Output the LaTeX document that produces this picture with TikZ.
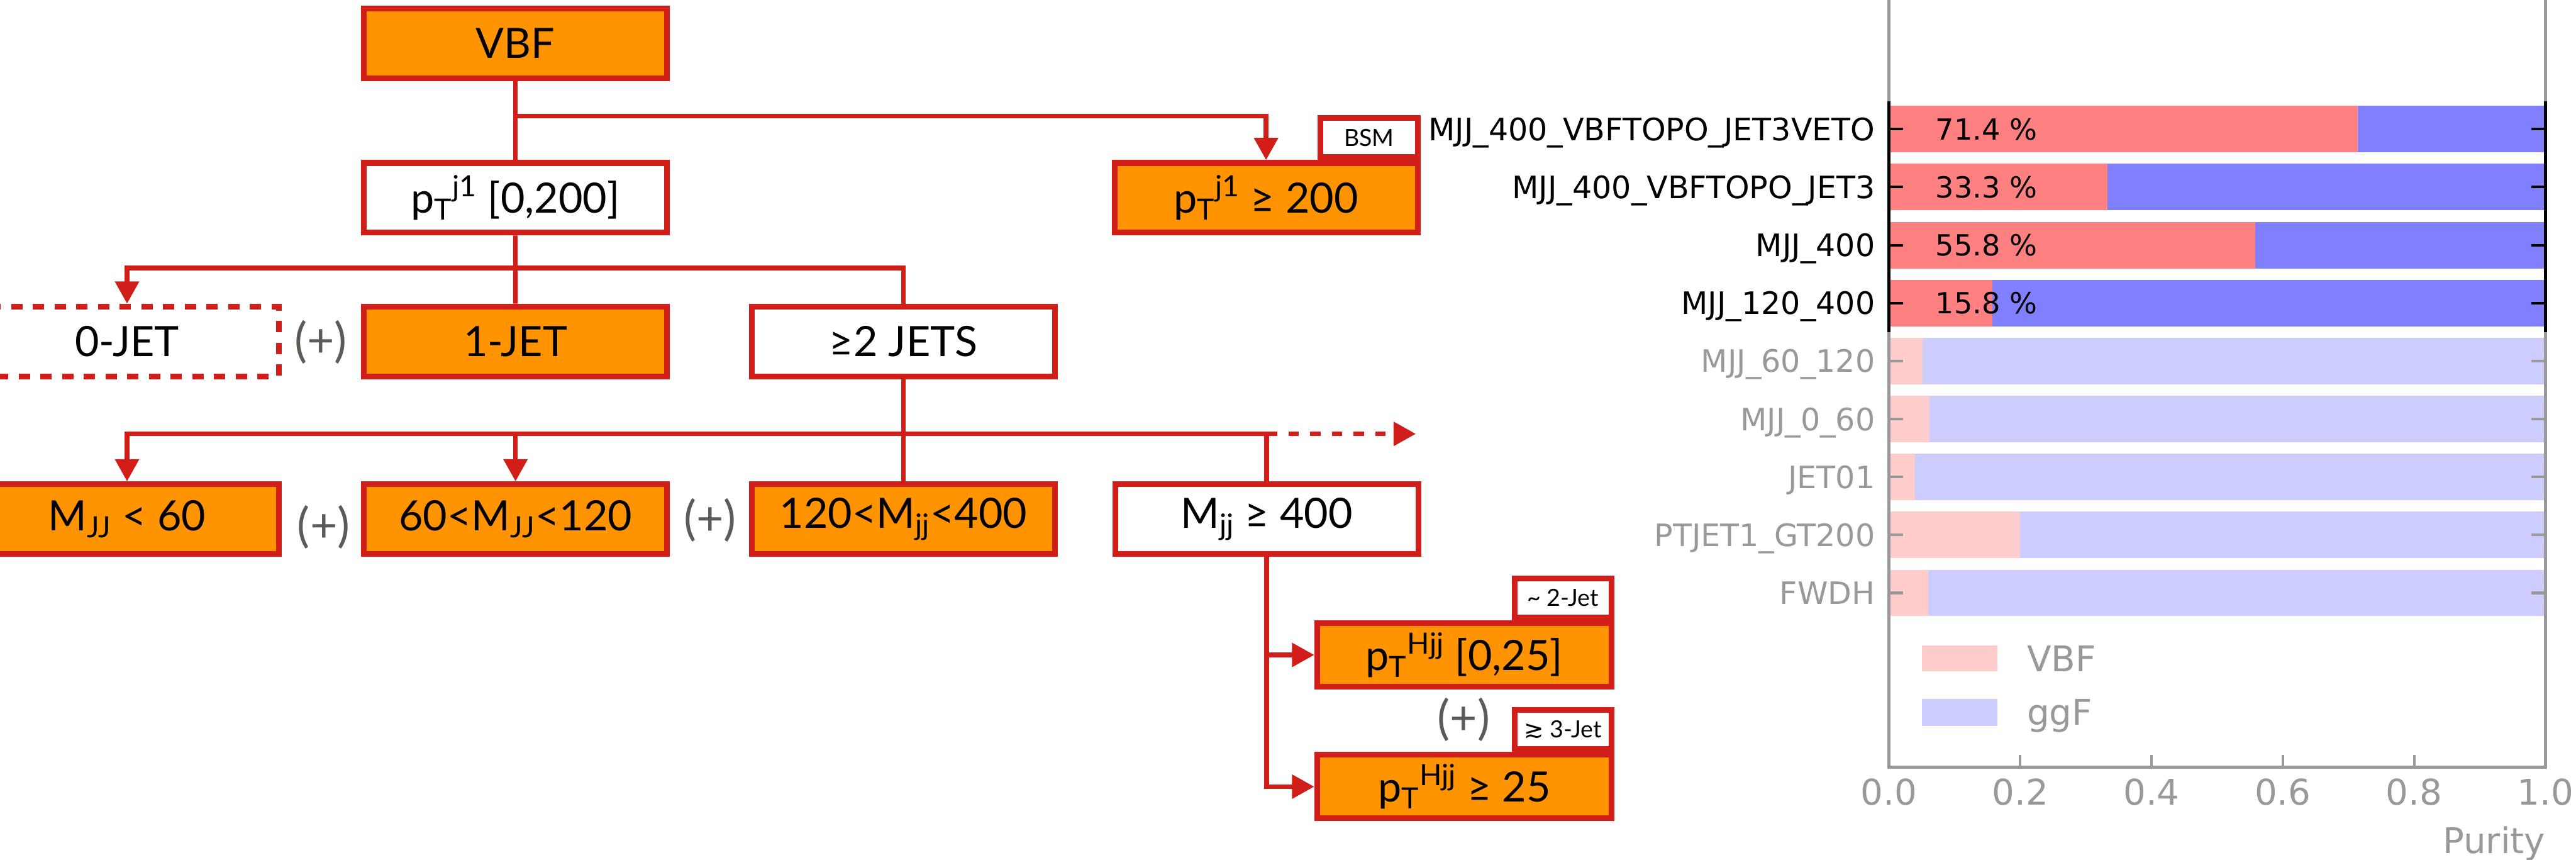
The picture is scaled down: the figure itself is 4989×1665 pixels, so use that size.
\documentclass[tikz,border=0pt]{standalone}
\usepackage{fontspec}
\setmainfont{Lato}
\newfontfamily\dejavu{DejaVu Sans}
\usetikzlibrary{arrows.meta, positioning}

\definecolor{catred}{RGB}{210,30,24}
\definecolor{catorange}{RGB}{255,148,0}
\definecolor{plusgray}{RGB}{94,90,87}
\definecolor{axisgray}{RGB}{153,153,153}
\definecolor{vbfred}{RGB}{255,128,128}
\definecolor{ggfblue}{RGB}{128,128,255}
\definecolor{vbflight}{RGB}{255,204,204}
\definecolor{ggflight}{RGB}{204,204,255}

\begin{document}
\begin{tikzpicture}[x=0.01cm, y=-0.01cm]
    \tikzstyle{catbox}=[draw=catred, line width=0.11cm, fill=catorange, minimum width=5.87cm, minimum height=1.35cm, inner sep=0pt, font=\fontsize{23}{27}\selectfont]
    \tikzstyle{openbox}=[catbox, fill=white]
    \tikzstyle{zerobox}=[openbox, dash pattern=on 0.22cm off 0.2cm]
    \tikzstyle{hjjbox}=[catbox, minimum width=5.70cm, minimum height=1.23cm]
    \tikzstyle{tagbox}=[draw=catred, line width=0.11cm, fill=white, minimum width=1.88cm, minimum height=0.76cm, inner sep=0pt, font=\fontsize{13}{15}\selectfont]
    \tikzstyle{plussign}=[text=plusgray, inner sep=0pt, font=\fontsize{26}{30}\selectfont]
    \tikzstyle{flowline}=[draw=catred, line width=0.09cm]
    \tikzstyle{flowarrow}=[-{Triangle[length=0.43cm, width=0.45cm]}]
    \tikzstyle{rowlabel}=[anchor=base east, inner sep=0pt, font=\dejavu\fontsize{17}{20}\selectfont]
    \tikzstyle{pctlabel}=[anchor=base west, inner sep=0pt, font=\dejavu\fontsize{16}{19}\selectfont]
    \tikzstyle{axislabel}=[text=axisgray, inner sep=0pt, font=\dejavu\fontsize{19.5}{23}\selectfont]

    \clip (0,0) rectangle (4989,1665);

    % Category tree
    \node[catbox] (vbf) at (998, 84) {VBF};
    \node[openbox] (ptlow) at (998, 383) {p\textsubscript{T}\textsuperscript{j1} [0,200]};
    \node[catbox] (pthigh) at (2452, 383) {p\textsubscript{T}\textsuperscript{j1} ≥ 200};
    \node[tagbox, anchor=south east] (bsm) at (pthigh.north east) {BSM};

    \node[zerobox] (zerojet) at (246, 661) {0-JET};
    \node[catbox, right=1.54cm of zerojet] (onejet) {1-JET};
    \node[openbox, right=1.53cm of onejet] (twojet) {≥2 JETS};
    \node[plussign] (plusa) at (621, 663) {(+)};

    \node[catbox] (mjja) at (246, 1005) {M\textsubscript{JJ} < 60};
    \node[catbox, right=1.54cm of mjja] (mjjb) {60<M\textsubscript{JJ}<120};
    \node[catbox, right=1.53cm of mjjb] (mjjc) {120<M\textsubscript{jj}<400};
    \node[openbox, right=1.05cm of mjjc] (mjjd) {M\textsubscript{jj} ≥ 400};
    \node[plussign] (plusb) at (627, 1020) {(+)};
    \node[plussign] (plusc) at (1375, 1007) {(+)};

    \node[hjjbox] (pthjjlow) at (2836, 1268) {p\textsubscript{T}\textsuperscript{Hjj} [0,25]};
    \node[hjjbox] (pthjjhigh) at (2836, 1523) {p\textsubscript{T}\textsuperscript{Hjj} ≥ 25};
    \node[tagbox, anchor=south east] (twojettag) at (pthjjlow.north east) {\textasciitilde{} 2-Jet};
    \node[tagbox, anchor=south east] (threejettag) at (pthjjhigh.north east) {{\dejavu ≳} 3-Jet};
    \node[plussign] (plusd) at (2835, 1393) {(+)};

    % Connectors
    \coordinate (vbfsplit) at (998, 225);
    \draw[flowline] (vbf) -- (ptlow);
    \draw[flowline, flowarrow] (vbfsplit) -| (pthigh.north);

    \coordinate (jetsplit) at (998, 519);
    \draw[flowline] (ptlow) -- (onejet);
    \draw[flowline, flowarrow] (jetsplit) -| (zerojet.north);
    \draw[flowline] (jetsplit) -| (twojet.north);

    \coordinate (mjjsplit) at (1749, 840);
    \coordinate (mjjmore) at (2742, 840);
    \draw[flowline] (twojet) -- (mjjc);
    \draw[flowline, flowarrow] (mjjsplit) -| (mjja.north);
    \draw[flowline, flowarrow] (mjjsplit -| mjjb.north) -- (mjjb.north);
    \draw[flowline] (mjjsplit) -| (mjjd.north);
    \draw[flowline, flowarrow, dash pattern=on 0.2cm off 0.22cm] (mjjsplit -| mjjd.north) -- (mjjmore);

    \draw[flowline, flowarrow] (mjjd.south) |- (pthjjhigh.west);
    \draw[flowline, flowarrow] (mjjd.south |- pthjjlow.west) -- (pthjjlow.west);

    % Purity bars, selected categories
    \foreach \lab/\share/\pct [count=\i] in {MJJ\_400\_VBFTOPO\_JET3VETO/0.714/71.4, MJJ\_400\_VBFTOPO\_JET3/0.333/33.3, MJJ\_400/0.558/55.8, MJJ\_120\_400/0.158/15.8} {
        \pgfmathsetmacro{\yc}{250+112.25*(\i-1)}
        \fill[vbfred] (3658, \yc-45) rectangle ({3658+1272*\share}, \yc+45);
        \fill[ggfblue] ({3658+1272*\share}, \yc-45) rectangle (4930, \yc+45);
        \node[rowlabel] (row\i) at (3632, \yc+22) {\lab};
        \node[pctlabel] (pct\i) at (3748, \yc+21) {\pct~\%};
        \draw[line width=0.05cm] (3658, \yc) -- ++(28, 0);
        \draw[line width=0.05cm] (4930, \yc) -- ++(-28, 0);
    }

    % Purity bars, other categories
    \foreach \lab/\share [count=\i from 5] in {MJJ\_60\_120/0.051, MJJ\_0\_60/0.062, JET01/0.040, PTJET1\_GT200/0.200, FWDH/0.060} {
        \pgfmathsetmacro{\yc}{250+112.25*(\i-1)}
        \fill[vbflight] (3658, \yc-45) rectangle ({3658+1272*\share}, \yc+45);
        \fill[ggflight] ({3658+1272*\share}, \yc-45) rectangle (4930, \yc+45);
        \node[rowlabel, text=axisgray] (row\i) at (3632, \yc+22) {\lab};
        \draw[axisgray, line width=0.05cm] (3658, \yc) -- ++(28, 0);
        \draw[axisgray, line width=0.05cm] (4930, \yc) -- ++(-28, 0);
    }

    % Axes frame
    \draw[axisgray, line width=0.06cm] (3658, 0) -- (3658, 196);
    \draw[axisgray, line width=0.06cm] (4930, 0) -- (4930, 196);
    \draw[line width=0.06cm] (3658, 196) -- (3658, 643);
    \draw[line width=0.06cm] (4930, 196) -- (4930, 643);
    \draw[axisgray, line width=0.06cm] (3658, 643) -- (3658, 1485) -- (4930, 1485) -- (4930, 643);
    \foreach \t in {0.2, 0.4, 0.6, 0.8}
        \draw[axisgray, line width=0.05cm] ({3658+1272*\t}, 1485) -- ++(0, -24);
    \foreach \t [count=\k] in {0.0, 0.2, 0.4, 0.6, 0.8, 1.0}
        \node[axislabel, anchor=base] (tick\k) at ({3658+1272*\t}, 1559) {\t};
    \node[axislabel, anchor=base east] (xtitle) at (4930, 1652) {Purity};

    % Legend
    \fill[vbflight] (3722, 1250) rectangle (3868, 1299);
    \fill[ggflight] (3722, 1353) rectangle (3868, 1405);
    \node[axislabel, anchor=base west] (legvbf) at (3925, 1300) {VBF};
    \node[axislabel, anchor=base west] (legggf) at (3925, 1404) {ggF};
\end{tikzpicture}
\end{document}
